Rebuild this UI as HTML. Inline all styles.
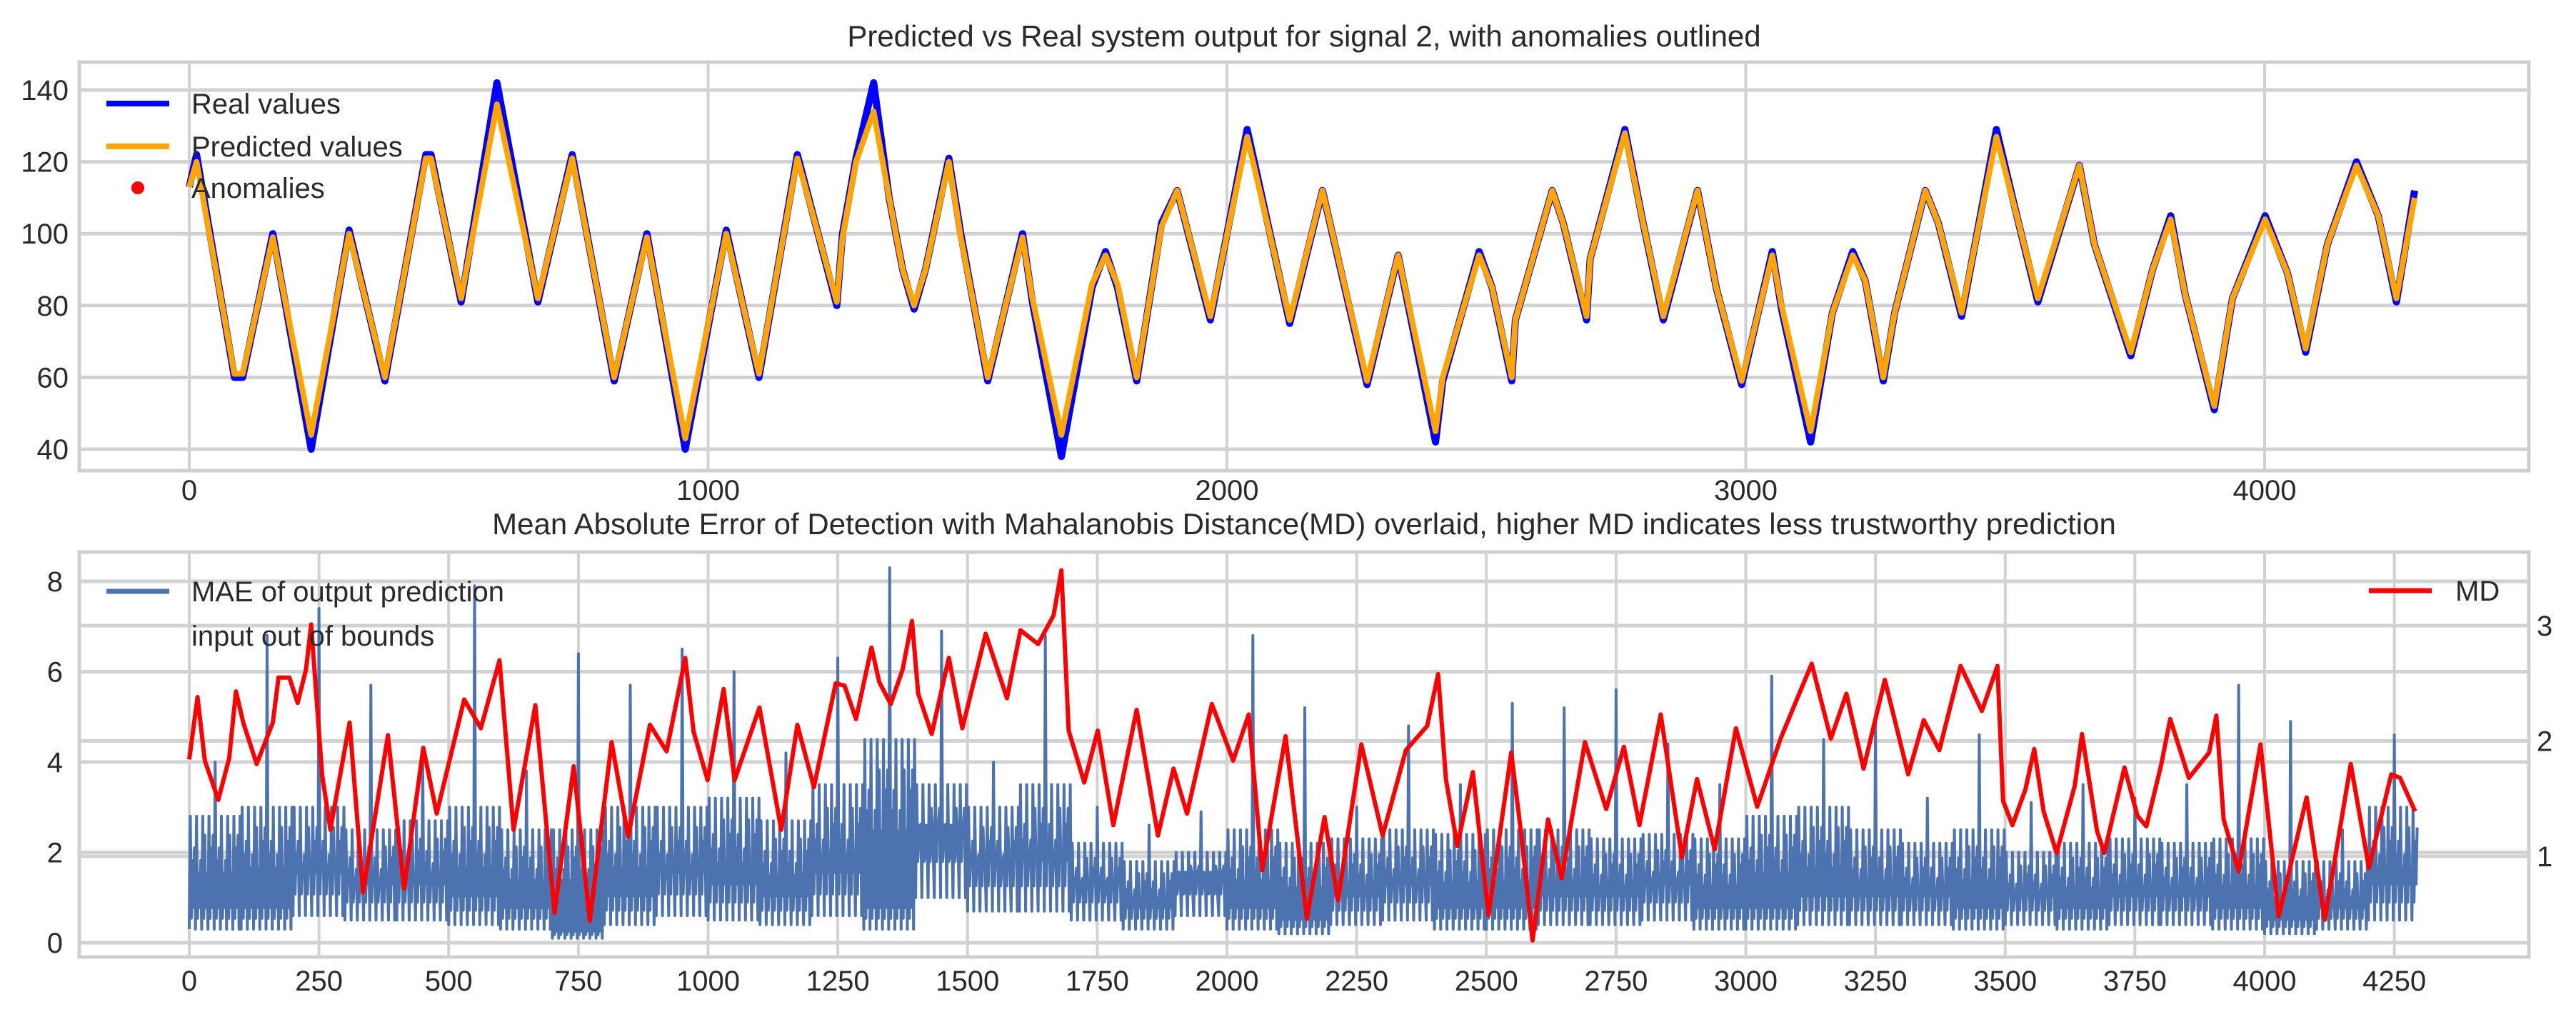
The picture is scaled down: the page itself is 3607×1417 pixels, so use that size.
<!DOCTYPE html>
<html><head><meta charset="utf-8"><style>
html,body{margin:0;padding:0;background:#fff;}
svg{display:block;font-family:"Liberation Sans",sans-serif;}
</style></head><body>
<svg id="chart" width="3607" height="1417" viewBox="0 0 3607 1417" xmlns="http://www.w3.org/2000/svg">
<rect width="3607" height="1417" fill="#fff"/>
<g id="topChart"></g>
<g id="botChart"></g>
</svg>
<script>
// ---- top chart data ----
const realX = [0,14,87,103,161,235,308,377,456,466,524,593,672,738,819,882,956,1035,1098,1172,1248,1259,1285,1319,1349,1375,1397,1419,1464,1487,1539,1606,1625,1681,1740,1766,1789,1826,1874,1904,1968,2039,2121,2184,2270,2330,2402,2416,2486,2511,2549,2556,2627,2648,2693,2700,2767,2802,2841,2907,2943,2992,3051,3069,3125,3167,3206,3230,3265,3287,3346,3371,3416,3483,3524,3563,3643,3672,3742,3784,3819,3847,3903,3938,4001,4044,4079,4121,4177,4219,4254,4289];
const realVals = [113,122,60,60,100,40,101,59,122,122,81,142,81,122,59,100,40,101,60,122,80,100,121,142,110,90,79,90,121,100,59,100,81,38,85,95,85,59,103,112,76,129,75,112,58,94,42,59,95,85,59,76,112,103,76,93,129,103,76,112,85,58,95,79,42,78,95,87,59,78,112,103,77,129,104,81,119,97,66,90,105,83,51,82,105,89,67,97,120,105,81,112];
const predVals = [113,120,61,61,99,44,100,60,121,121,82,136,82,121,60,99,43,100,61,121,81,99,120,134,110,90,80,90,120,99,60,99,82,44,86,94,86,60,102,112,77,127,76,112,59,94,45,60,94,85,60,76,112,103,77,93,128,103,77,112,85,59,94,80,45,78,94,87,60,78,112,103,78,127,104,82,119,97,67,90,104,83,52,82,104,89,68,97,119,105,82,110];
const topXTicks = [0,1000,2000,3000,4000];
const topYTicks = [40,60,80,100,120,140];
// ---- bottom chart data ----
const mdX = [0,16,30,56,77,90,104,130,161,172,193,209,225,235,256,272,309,335,383,414,451,477,530,562,598,625,667,704,741,772,814,846,888,920,956,972,999,1030,1051,1099,1141,1172,1204,1246,1263,1285,1315,1330,1352,1375,1393,1405,1431,1464,1490,1535,1576,1602,1636,1666,1681,1695,1725,1751,1781,1826,1867,1897,1923,1971,2012,2042,2068,2113,2154,2188,2214,2259,2300,2345,2386,2407,2422,2444,2474,2504,2548,2567,2589,2619,2645,2690,2731,2765,2795,2836,2877,2906,2940,2981,3022,3067,3127,3164,3194,3227,3268,3313,3343,3373,3414,3455,3485,3496,3514,3539,3556,3574,3599,3634,3648,3677,3691,3730,3755,3772,3801,3818,3854,3893,3907,3921,3950,3992,4027,4081,4116,4166,4201,4244,4261,4290];
const mdVals = [1.84,2.38,1.83,1.49,1.85,2.43,2.16,1.80,2.16,2.55,2.55,2.33,2.62,3.01,1.71,1.23,2.16,0.69,2.05,0.72,1.94,1.37,2.36,2.11,2.70,1.23,2.31,0.51,1.78,0.44,1.99,1.17,2.14,1.91,2.72,2.08,1.66,2.45,1.66,2.29,1.23,2.14,1.60,2.50,2.48,2.19,2.81,2.51,2.32,2.62,3.04,2.41,2.06,2.72,2.11,2.93,2.37,2.96,2.84,3.09,3.48,2.09,1.64,2.09,1.27,2.27,1.18,1.76,1.37,2.32,1.83,2.23,0.88,2.04,0.46,1.34,0.62,1.97,1.18,1.92,2.13,2.58,1.67,1.09,1.73,0.49,1.90,1.20,0.27,1.32,0.81,1.99,1.41,1.95,1.27,2.23,0.99,1.67,1.06,2.11,1.43,2.02,2.67,2.02,2.41,1.76,2.53,1.71,2.18,1.92,2.65,2.26,2.65,1.48,1.27,1.58,1.93,1.39,1.03,1.61,2.06,1.22,1.03,1.77,1.35,1.26,1.80,2.19,1.68,1.90,2.22,1.32,0.87,1.97,0.48,1.51,0.45,1.80,0.90,1.71,1.68,1.39];
const maeBinStart = [0,100,200,300,400,500,600,700,800,900,1000,1100,1200,1300,1400,1500,1600,1700,1800,1900,2000,2100,2200,2300,2400,2500,2600,2700,2800,2900,3000,3100,3200,3300,3400,3500,3600,3700,3800,3900,4000,4100,4200];
const maeSpike = [4.0,6.8,7.4,5.7,4.0,7.9,3.8,6.4,5.7,6.5,6.0,4.2,6.3,8.3,6.9,4.0,6.8,3.0,2.6,2.9,6.8,5.2,3.0,4.8,3.5,5.3,5.2,5.6,4.4,3.5,5.9,4.5,4.9,3.2,4.6,3.1,3.5,3.2,3.5,5.7,4.9,2.5,4.6];
const maeBody = [2.8,3.0,3.0,2.5,2.7,3.0,2.5,2.5,3.0,3.0,3.2,2.7,3.5,4.5,3.5,3.0,3.5,2.2,1.8,2.0,2.5,2.2,2.3,2.5,2.4,2.5,2.5,2.3,2.4,2.3,2.8,3.0,2.5,2.2,2.5,2.0,2.2,2.3,2.2,2.3,1.8,1.8,3.0];
const maeLow = [0.3,0.3,0.6,0.5,0.5,0.4,0.3,0.1,0.4,0.6,0.5,0.4,0.6,0.3,1.0,0.7,0.7,0.5,0.3,0.6,0.3,0.2,0.4,0.5,0.3,0.3,0.4,0.4,0.5,0.3,0.3,0.4,0.4,0.4,0.3,0.4,0.3,0.4,0.4,0.3,0.2,0.3,0.5];
const botXTicks = [0,250,500,750,1000,1250,1500,1750,2000,2250,2500,2750,3000,3250,3500,3750,4000,4250];
const leftYTicks = [0,2,4,6,8];
const rightYTicks = [1,2,3];

const NS="http://www.w3.org/2000/svg";
function mk(parent,tag,attrs,text){const el=document.createElementNS(NS,tag);for(const k in attrs)el.setAttribute(k,attrs[k]);if(text!==undefined)el.textContent=text;parent.appendChild(el);return el;}
const L=111,R=3541;
const xS=v=>265+v*0.7265;
const TT=87,TB=659; const yT=v=>629-(v-40)*5.03;
const BT=773,BB=1340; const yL=v=>1320-v*63.25; const yR=v=>1360.5-v*161.5;
const topG=document.getElementById('topChart'), botG=document.getElementById('botChart');
const grid='#d2d2d2', txt='#2a2a2a', FS=40;
function ptsOf(xs,ys,fy){const out=[];for(let i=0;i<xs.length;i++){if(typeof ys[i]!=='number'||isNaN(ys[i]))continue;out.push(xS(xs[i]).toFixed(1)+','+fy(ys[i]).toFixed(1));}return out.join(' ');}

let e;
e=mk(topG,'rect',{x:L,y:TT,width:R-L,height:TB-TT,fill:'#fff',stroke:'#cfcfcf','stroke-width':5});


topYTicks.forEach(v=>{
 e=mk(topG,'line',{x1:L,x2:R,y1:yT(v),y2:yT(v),stroke:grid,'stroke-width':5});
 
 
 e=mk(topG,'text',{x:96,y:yT(v)+14,'text-anchor':'end','font-size':FS,fill:txt},String(v));
 
 
});
topXTicks.forEach(v=>{
 e=mk(topG,'line',{x1:xS(v),x2:xS(v),y1:TT,y2:TB,stroke:grid,'stroke-width':4});
 
 
 e=mk(topG,'text',{x:xS(v),y:700,'text-anchor':'middle','font-size':FS,fill:txt},String(v));
 
 
});
e=mk(topG,'text',{x:1826,y:65,'text-anchor':'middle','font-size':42,fill:txt},'Predicted vs Real system output for signal 2, with anomalies outlined');


e=mk(topG,'polyline',{points:ptsOf(realX,realVals,yT),fill:'none',stroke:'#0000ff','stroke-width':10,'stroke-linejoin':'round'});


e=mk(topG,'polyline',{points:ptsOf(realX,predVals,yT),fill:'none',stroke:'#ffa500','stroke-width':8,'stroke-linejoin':'round'});


e=mk(topG,'line',{x1:149,x2:237,y1:145,y2:145,stroke:'#0000ff','stroke-width':8});


e=mk(topG,'text',{x:268,y:159,'font-size':FS,fill:txt},'Real values');


e=mk(topG,'line',{x1:149,x2:237,y1:205,y2:205,stroke:'#ffa500','stroke-width':8});


e=mk(topG,'text',{x:268,y:219,'font-size':FS,fill:txt},'Predicted values');


e=mk(topG,'circle',{cx:193,cy:263,r:9,fill:'#ff0000'});


e=mk(topG,'text',{x:268,y:277,'font-size':FS,fill:txt},'Anomalies');



e=mk(botG,'rect',{x:L,y:BT,width:R-L,height:BB-BT,fill:'#fff',stroke:'#cfcfcf','stroke-width':5});


leftYTicks.forEach(v=>{
 e=mk(botG,'line',{x1:L,x2:R,y1:yL(v),y2:yL(v),stroke:grid,'stroke-width':5});
 
 
 e=mk(botG,'text',{x:88,y:yL(v)+14,'text-anchor':'end','font-size':FS,fill:txt},String(v));
 
 
});
rightYTicks.forEach(v=>{
 e=mk(botG,'line',{x1:L,x2:R,y1:yR(v),y2:yR(v),stroke:grid,'stroke-width':5});
 
 
 e=mk(botG,'text',{x:3552,y:yR(v)+14,'font-size':FS,fill:txt},String(v));
 
 
});
botXTicks.forEach(v=>{
 e=mk(botG,'line',{x1:xS(v),x2:xS(v),y1:BT,y2:BB,stroke:grid,'stroke-width':4});
 
 
 e=mk(botG,'text',{x:xS(v),y:1387,'text-anchor':'middle','font-size':FS,fill:txt},String(v));
 
 
});
e=mk(botG,'text',{x:1826,y:748,'text-anchor':'middle','font-size':42,fill:txt},'Mean Absolute Error of Detection with Mahalanobis Distance(MD) overlaid, higher MD indicates less trustworthy prediction');


const mp=[];
maeBinStart.forEach((b,i)=>{
 const n=25;
 for(let k=0;k<n;k++){
  const x=b+k*(100/n); if(x>4294) break;
  const hiV=(k===12)?maeSpike[i]:(k%3===0?maeBody[i]:maeBody[i]*(0.55+0.1*(k%4)));
  const loV=maeLow[i]*(1+0.8*(k%3));
  mp.push(xS(x).toFixed(1)+','+yL(loV).toFixed(1));
  mp.push(xS(x+2).toFixed(1)+','+yL(hiV).toFixed(1));
 }
});
e=mk(botG,'polyline',{points:mp.join(' '),fill:'none',stroke:'#4c72b0','stroke-width':4,'stroke-linejoin':'round'});


e=mk(botG,'polyline',{points:ptsOf(mdX,mdVals,yR),fill:'none',stroke:'#ff0000','stroke-width':6,'stroke-linejoin':'round'});


e=mk(botG,'line',{x1:149,x2:237,y1:828,y2:828,stroke:'#4c72b0','stroke-width':7});


e=mk(botG,'text',{x:268,y:842,'font-size':FS,fill:txt},'MAE of output prediction');


e=mk(botG,'text',{x:268,y:904,'font-size':FS,fill:txt},'input out of bounds');


e=mk(botG,'line',{x1:3317,x2:3405,y1:827,y2:827,stroke:'#ff0000','stroke-width':7});


e=mk(botG,'text',{x:3438,y:841,'font-size':FS,fill:txt},'MD');


</script>
</body></html>
